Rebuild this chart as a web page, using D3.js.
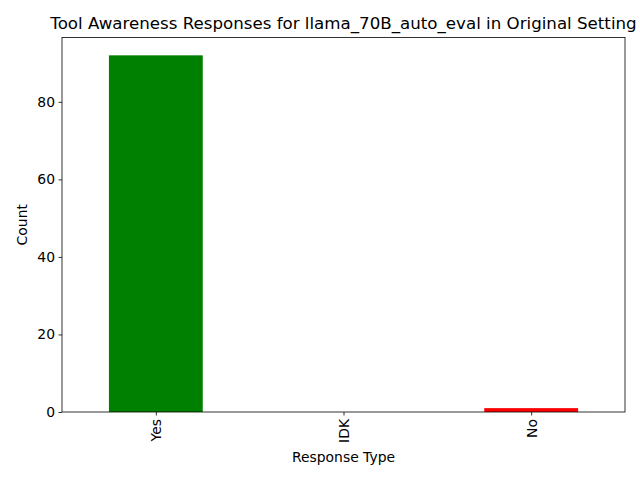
<!DOCTYPE html>
<html><head><meta charset="utf-8">
<script src="https://cdn.jsdelivr.net/npm/d3@7"></script>
<style>body{margin:0;background:#fff}svg{display:block}text{font-family:"DejaVu Sans",sans-serif;fill:#000}</style>
</head><body>
<svg id="c" width="640" height="480"></svg>
<script>
const categories = ["Yes", "IDK", "No"];
const counts = [92, 0, 1];
const colors = ["#008000", "#ffa500", "#ff0000"];
const yTicks = [0, 20, 40, 60, 80];

const svg = d3.select("#c");
const m = {l: 62, r: 625, t: 37.5, b: 412};
const x = d3.scaleLinear().domain([-0.5, 2.5]).range([m.l, m.r]);
const y = d3.scaleLinear().domain([0, d3.max(counts) * 1.05]).range([m.b, m.t]);

svg.selectAll("rect.bar").data(categories).enter().append("rect")
  .attr("class", "bar")
  .attr("x", (d, i) => x(i - 0.25))
  .attr("width", (d, i) => x(i + 0.25) - x(i - 0.25))
  .attr("y", (d, i) => y(counts[i]))
  .attr("height", (d, i) => y(0) - y(counts[i]))
  .attr("fill", (d, i) => colors[i]);

const yAxis = d3.axisLeft(y).tickValues(yTicks).tickSize(3.5).tickPadding(3.5);
const gy = svg.append("g").attr("transform", `translate(${m.l},0)`).call(yAxis);
gy.select(".domain").remove();
gy.selectAll("text").style("font-size", "13.9px").attr("font-family", "DejaVu Sans");
gy.selectAll("line").attr("stroke", "#000").attr("stroke-width", 0.8);

const xAxis = d3.axisBottom(x).tickValues([0, 1, 2]).tickFormat(i => categories[i]).tickSize(3.5).tickPadding(3.5);
const gx = svg.append("g").attr("transform", `translate(0,${m.b})`).call(xAxis);
gx.select(".domain").remove();
gx.selectAll("line").attr("stroke", "#000").attr("stroke-width", 0.8);
gx.selectAll("text").style("font-size", "13.9px")
  .attr("transform", "rotate(-90)")
  .attr("text-anchor", "end")
  .attr("dy", "0.35em")
  .attr("x", -7)
  .attr("y", 0);

svg.append("rect").attr("x", m.l).attr("y", m.t).attr("width", m.r - m.l).attr("height", m.b - m.t)
  .attr("fill", "none").attr("stroke", "#000").attr("stroke-width", 0.8);

svg.append("text").attr("x", (m.l + m.r) / 2).attr("y", 29).attr("text-anchor", "middle")
  .style("font-size", "16.67px").text("Tool Awareness Responses for llama_70B_auto_eval in Original Setting");
svg.append("text").attr("x", (m.l + m.r) / 2).attr("y", 462).attr("text-anchor", "middle")
  .style("font-size", "13.9px").text("Response Type");
svg.append("text").attr("transform", `translate(27,${(m.t + m.b) / 2}) rotate(-90)`).attr("text-anchor", "middle")
  .style("font-size", "13.9px").text("Count");
</script>
</body></html>
